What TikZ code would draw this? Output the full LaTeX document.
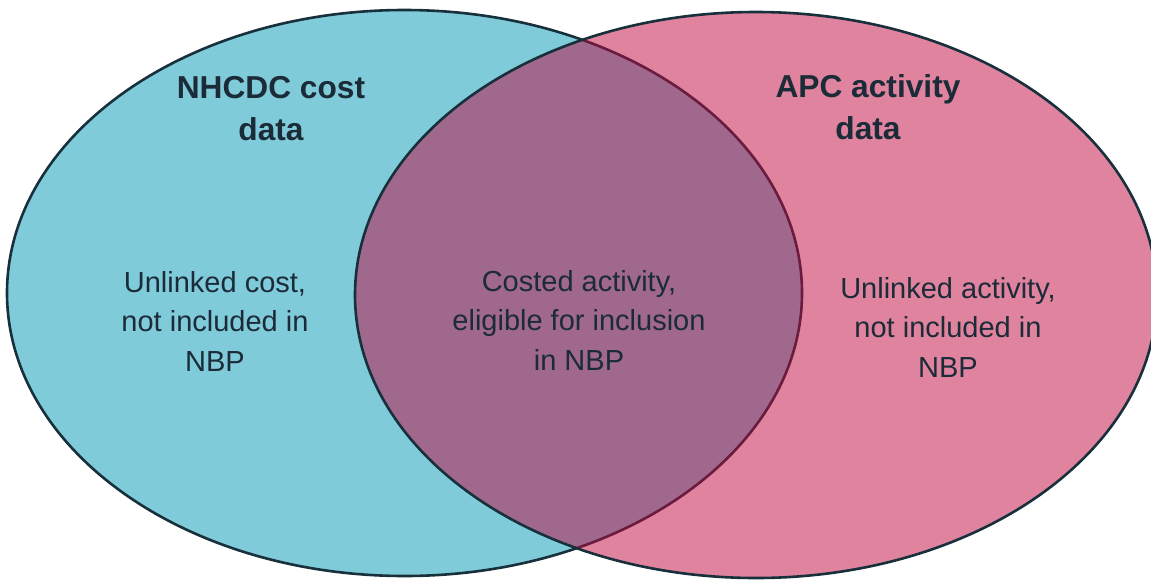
\documentclass[tikz,border=0pt]{standalone}
\usepackage{fontspec}
\setmainfont{Liberation Sans}
\definecolor{costblue}{HTML}{80CBDA}
\definecolor{activitypink}{HTML}{C0073F}
\definecolor{edgenavy}{HTML}{17303B}
\definecolor{textnavy}{HTML}{1B2B37}
\begin{document}
\begin{tikzpicture}[x=1pt,y=-1pt,
    settitle/.style={text=textnavy,align=center,font=\bfseries\fontsize{31.7}{42}\selectfont},
    setbody/.style={text=textnavy,align=center,font=\fontsize{29}{39.5}\selectfont}]
    \useasboundingbox (0,0) rectangle (1151,579);
    % the two data sets
    \draw[line width=2.6pt,draw=edgenavy,fill=costblue] (404.5,293) ellipse (397.5pt and 283pt);
    \draw[line width=2.6pt,draw=edgenavy,fill=activitypink,fill opacity=.5] (756,295) ellipse (401pt and 283pt);
    % labels
    \node[settitle] (costtitle) at (271,109) {NHCDC cost\\data};
    \node[settitle] (apctitle) at (868,107) {APC activity\\data};
    \node[setbody] (costonly) at (215,321) {Unlinked cost,\\not included in\\NBP};
    \node[setbody] (both) at (579,320) {Costed activity,\\eligible for inclusion\\in NBP};
    \node[setbody] (apconly) at (948,327) {Unlinked activity,\\not included in\\NBP};
\end{tikzpicture}
\end{document}
